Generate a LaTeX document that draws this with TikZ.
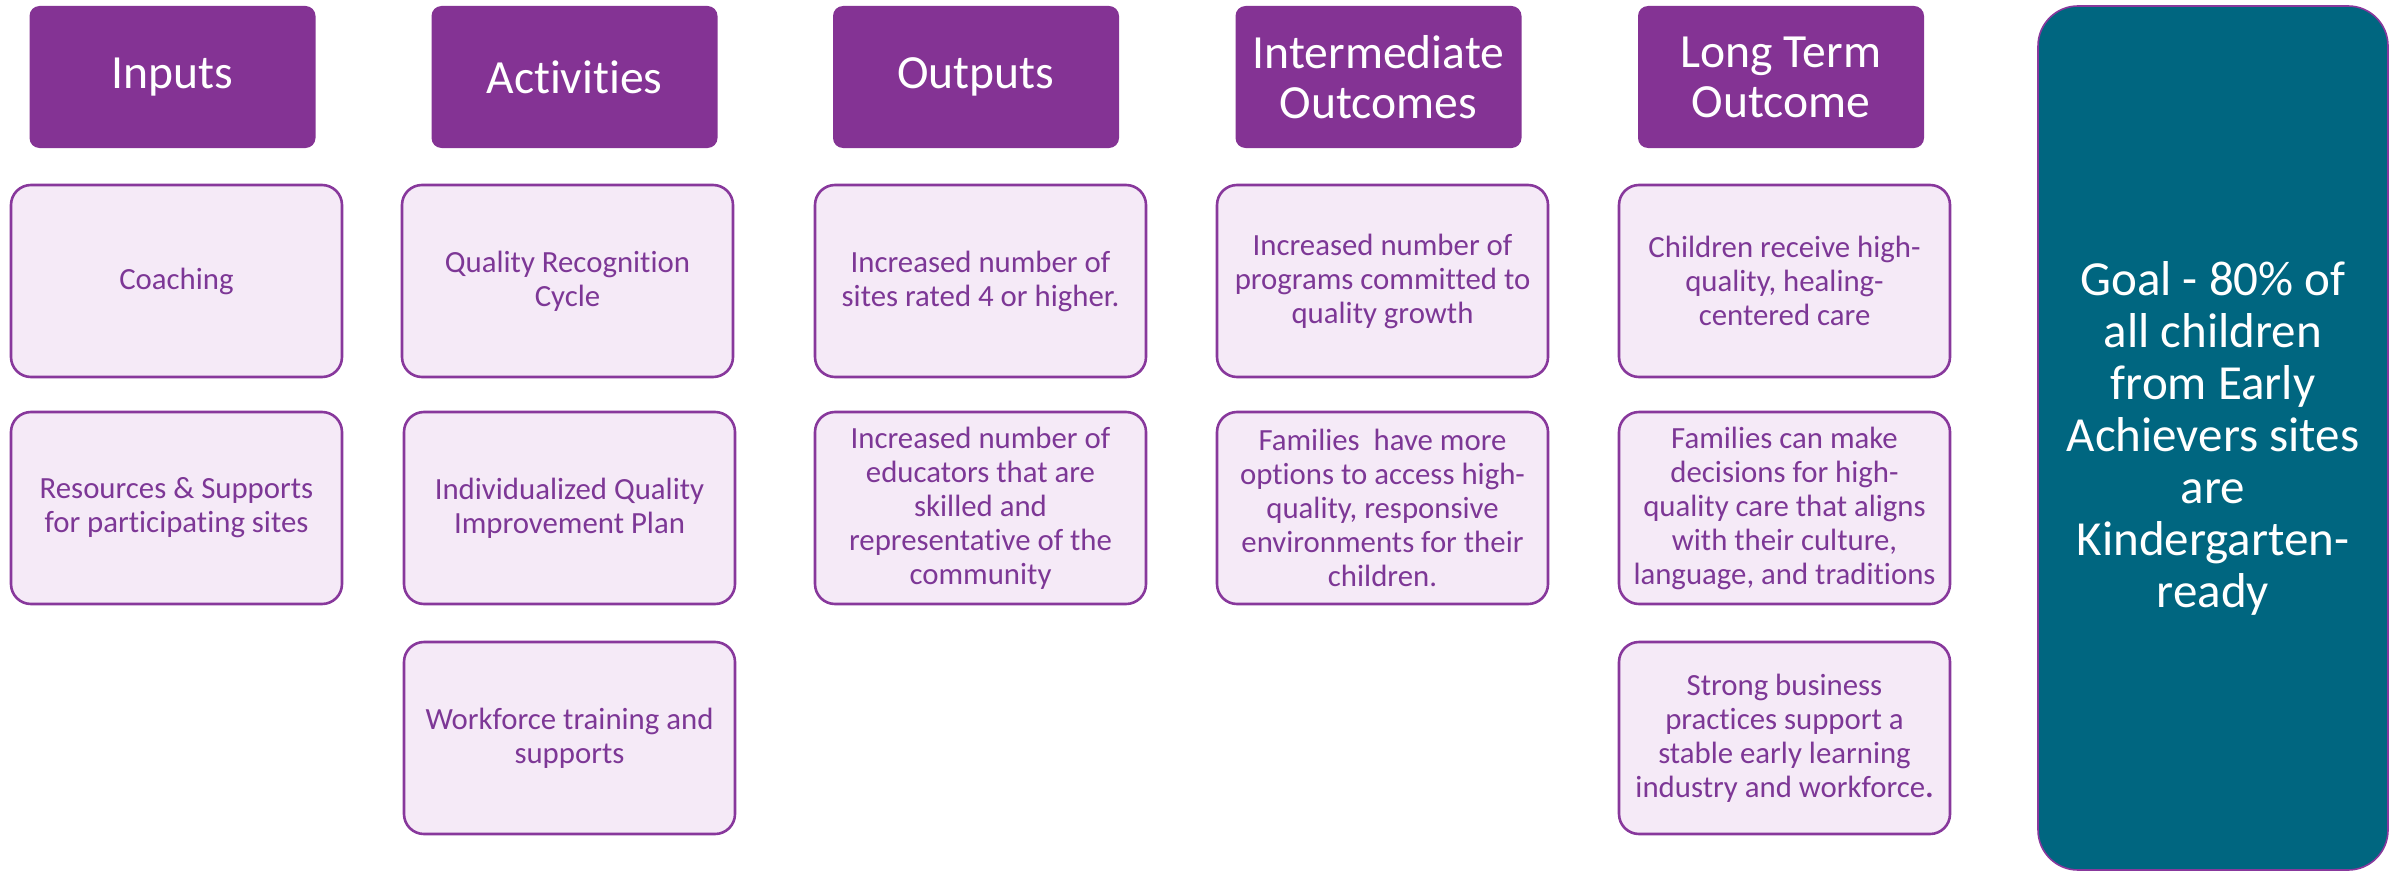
\documentclass[tikz,border=0pt]{standalone}
\usepackage{fontspec}
\setmainfont{Carlito}[Ligatures={NoCommon}]
\definecolor{hdrpurple}{RGB}{132,51,148}
\definecolor{boxfill}{RGB}{245,234,247}
\definecolor{boxline}{RGB}{136,56,156}
\definecolor{boxtext}{RGB}{125,55,150}
\definecolor{goalfill}{RGB}{0,102,128}
\tikzset{
  hdr/.style={fill=hdrpurple, text=white, rounded corners=5pt, minimum width=143pt, minimum height=71pt, align=center, inner sep=0pt, font=\fontsize{23.8}{25}\selectfont},
  itembox/.style={fill=boxfill, draw=boxline, line width=1.3pt, rounded corners=10pt, minimum width=165.5pt, minimum height=96pt, align=center, text=boxtext, inner sep=0pt, font=\fontsize{15.4}{17}\selectfont},
  goalbox/.style={fill=goalfill, draw=boxline, line width=0.8pt, rounded corners=20pt, minimum width=175pt, minimum height=432pt, align=center, text=white, inner sep=0pt, font=\fontsize{24.5}{26}\selectfont}
}
\begin{document}
\begin{tikzpicture}[x=0.5pt,y=-0.5pt]
\useasboundingbox (0,0) rectangle (2392,872);
% headers
\node[hdr] (hInputs) at (172.5,77) {Inputs};
\node[hdr] (hActivities) at (574.5,77) {Activities};
\node[hdr] (hOutputs) at (976,77) {Outputs};
\node[hdr] (hInter) at (1378.5,77) {Intermediate\\Outcomes};
\node[hdr] (hLong) at (1781,77) {Long Term\\Outcome};
% column 1
\node[itembox] (in1) at (176.5,281) {Coaching};
\node[itembox] (in2) at (176.5,508) {Resources \& Supports\\for participating sites};
% column 2
\node[itembox] (ac1) at (567.5,281) {Quality Recognition\\Cycle};
\node[itembox] (ac2) at (569.5,508) {Individualized Quality\\Improvement Plan};
\node[itembox] (ac3) at (569.5,738) {Workforce training and\\supports};
% column 3
\node[itembox] (ou1) at (980.5,281) {Increased number of\\sites rated 4 or higher.};
\node[itembox] (ou2) at (980.5,508) {Increased number of\\educators that are\\skilled and\\representative of the\\community};
% column 4
\node[itembox] (io1) at (1382.5,281) {Increased number of\\programs committed to\\quality growth};
\node[itembox] (io2) at (1382.5,508) {Families\ \ have more\\options to access high-\\quality, responsive\\environments for their\\children.};
% column 5
\node[itembox] (lt1) at (1784.5,281) {Children receive high-\\quality, healing-\\centered care};
\node[itembox] (lt2) at (1784.5,508) {Families can make\\decisions for high-\\quality care that aligns\\with their culture,\\language, and traditions};
\node[itembox] (lt3) at (1784.5,738) {Strong business\\practices support a\\stable early learning\\industry and workforce\textbf{.}};
% goal
\node[goalbox] (goal) at (2213,438) {Goal - 80\% of\\all children\\from Early\\Achievers sites\\are\\Kindergarten-\\ready};
\end{tikzpicture}
\end{document}
